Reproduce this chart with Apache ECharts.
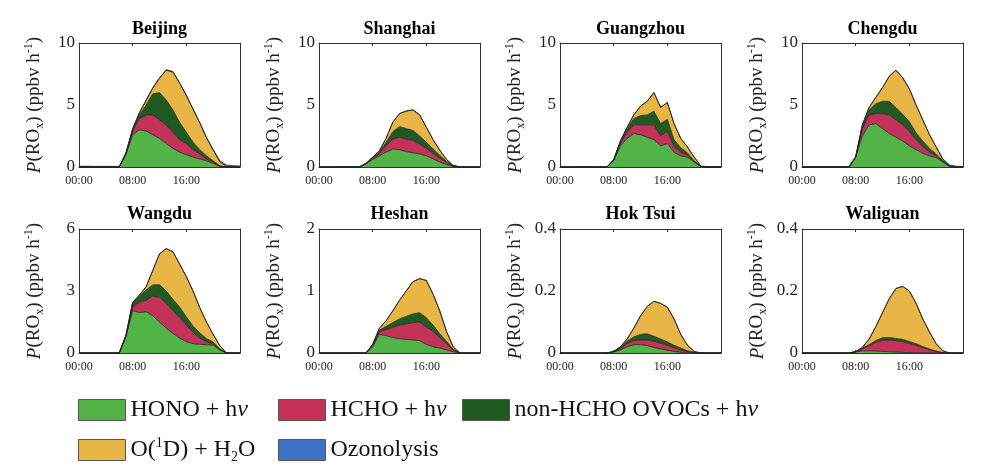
<!DOCTYPE html>
<html><head><meta charset="utf-8">
<script src="https://cdn.jsdelivr.net/npm/echarts@6/dist/echarts.min.js"></script>
<style>html,body{margin:0;padding:0;background:#fff}#c{width:986px;height:470px}</style>
</head><body><div id="c"></div>
<script>
// ---------- data ----------
const hours = [0,1,2,3,4,5,6,7,8,9,10,11,12,13,14,15,16,17,18,19,20,21,22,23,24];
const sites = ['Beijing','Shanghai','Guangzhou','Chengdu','Wangdu','Heshan','Hok Tsui','Waliguan'];
const yMax  = [10,10,10,10,6,2,0.4,0.4];
const yStep = [5,5,5,5,3,1,0.2,0.2];
const xTickLabels = ['00:00','08:00','16:00'];
const seriesNames = ['HONO + hν','HCHO + hν','non-HCHO OVOCs + hν','O(1D) + H2O','Ozonolysis'];

const beijing_HONO = [0,0,0,0,0,0,0,1.0,2.6,3.0,2.9,2.6,2.3,1.9,1.5,1.2,1.0,0.8,0.65,0.5,0.3,0.05,0,0,0];
const beijing_HCHO = [0,0,0,0,0,0,0,0.1,0.3,0.9,1.3,1.6,1.5,1.5,1.3,1.0,0.9,0.6,0.4,0.15,0.1,0,0,0,0];
const beijing_OVOC = [0,0,0,0,0,0,0,0,0.15,0.3,0.8,1.7,2.2,2.0,1.8,1.4,0.9,0.6,0.35,0.25,0.1,0.05,0,0,0];
const beijing_O1D  = [0,0,0,0,0,0,0,0,0,0.15,0.35,0.45,1.15,2.4,3.05,3.15,2.95,2.65,2.15,1.45,0.85,0.3,0.03,0,0];
const beijing_O3   = [0.06,0.06,0.05,0.05,0.05,0.05,0.05,0.05,0.05,0.05,0.05,0.05,0.05,0.05,0.05,0.05,0.05,0.05,0.05,0.05,0.08,0.1,0.12,0.1,0.08];

const shanghai_HONO = [0,0,0,0,0,0,0,0.25,0.6,0.9,1.2,1.45,1.4,1.25,1.15,1.05,0.9,0.65,0.4,0.2,0.05,0,0,0,0];
const shanghai_HCHO = [0,0,0,0,0,0,0,0.03,0.1,0.2,0.5,0.8,1.0,1.0,1.0,0.8,0.6,0.45,0.3,0.15,0.03,0,0,0,0];
const shanghai_OVOC = [0,0,0,0,0,0,0,0,0.05,0.1,0.3,0.6,0.85,0.85,0.8,0.65,0.5,0.35,0.25,0.1,0.02,0,0,0,0];
const shanghai_O1D  = [0,0,0,0,0,0,0,0,0.03,0.1,0.3,0.75,1.05,1.4,1.65,1.7,1.2,0.75,0.4,0.15,0.02,0,0,0,0];
const shanghai_O3   = [0.01,0.01,0.01,0.01,0.01,0.01,0.01,0.01,0.02,0.02,0.02,0.02,0.02,0.02,0.02,0.02,0.02,0.02,0.02,0.02,0.01,0.01,0.01,0.01,0.01];

const guangzhou_HONO = [0,0,0,0,0,0,0,0,0.5,1.7,2.3,2.7,2.6,2.4,2.2,1.7,1.9,1.2,0.9,0.8,0.4,0.03,0,0,0];
const guangzhou_HCHO = [0,0,0,0,0,0,0,0,0.05,0.2,0.5,0.7,0.8,1.0,1.2,0.8,1.0,0.45,0.3,0.15,0.05,0,0,0,0];
const guangzhou_OVOC = [0,0,0,0,0,0,0,0,0.02,0.1,0.3,0.5,0.75,0.8,1.1,1.0,0.95,0.55,0.35,0.2,0.05,0,0,0,0];
const guangzhou_O1D  = [0,0,0,0,0,0,0,0,0,0.1,0.1,0.3,0.75,1.1,1.5,1.3,1.35,1.3,0.75,0.45,0.3,0.02,0,0,0];
const guangzhou_O3   = [0.01,0.01,0.01,0.01,0.01,0.01,0.01,0.01,0.01,0.01,0.01,0.01,0.01,0.01,0.01,0.01,0.01,0.01,0.01,0.01,0.02,0.03,0.03,0.02,0.01];

const chengdu_HONO = [0,0,0,0,0,0,0,0,0.8,2.5,3.4,3.5,3.1,2.7,2.4,2.1,1.7,1.4,1.1,0.9,0.75,0.4,0.05,0,0];
const chengdu_HCHO = [0,0,0,0,0,0,0,0,0,0.6,0.8,0.8,1.2,1.5,1.4,1.3,1.2,0.8,0.55,0.3,0.15,0.05,0,0,0];
const chengdu_OVOC = [0,0,0,0,0,0,0,0,0,0.2,0.4,0.8,1.0,1.1,1.0,0.85,0.75,0.55,0.45,0.3,0.15,0.05,0,0,0];
const chengdu_O1D  = [0,0,0,0,0,0,0,0,0,0.1,0.2,0.5,1.1,2.0,3.0,2.95,2.65,2.25,1.7,1.1,0.55,0.1,0.03,0,0];
const chengdu_O3   = [0.02,0.02,0.02,0.02,0.02,0.02,0.02,0.02,0.02,0.02,0.02,0.02,0.02,0.02,0.02,0.02,0.02,0.02,0.02,0.03,0.04,0.06,0.08,0.06,0.03];

const wangdu_HONO = [0,0,0,0,0,0,0,0.8,2.05,1.95,2.0,1.8,1.5,1.2,0.95,0.72,0.55,0.45,0.42,0.4,0.38,0.15,0,0,0];
const wangdu_HCHO = [0,0,0,0,0,0,0,0.05,0.2,0.5,0.55,0.95,1.2,1.2,1.1,1.0,0.8,0.55,0.3,0.15,0.05,0,0,0,0];
const wangdu_OVOC = [0,0,0,0,0,0,0,0,0.2,0.3,0.5,0.55,0.6,0.6,0.55,0.5,0.4,0.3,0.25,0.15,0.1,0.05,0,0,0];
const wangdu_O1D  = [0,0,0,0,0,0,0,0,0,0.05,0.15,0.7,1.5,2.05,2.3,2.08,1.95,1.7,1.23,0.8,0.37,0.15,0,0,0];
const wangdu_O3   = [0,0,0,0,0,0,0,0,0,0,0,0,0,0,0,0,0,0,0,0,0,0,0,0,0];

const heshan_HONO = [0,0,0,0,0,0,0,0,0.1,0.3,0.28,0.25,0.23,0.22,0.21,0.2,0.14,0.1,0.08,0.05,0.02,0,0,0,0];
const heshan_HCHO = [0,0,0,0,0,0,0,0,0.02,0.05,0.1,0.16,0.22,0.25,0.28,0.3,0.28,0.25,0.17,0.1,0.03,0,0,0,0];
const heshan_OVOC = [0,0,0,0,0,0,0,0,0.01,0.02,0.05,0.08,0.1,0.12,0.14,0.15,0.15,0.1,0.06,0.04,0.01,0,0,0,0];
const heshan_O1D  = [0,0,0,0,0,0,0,0,0.01,0.03,0.09,0.19,0.3,0.41,0.52,0.55,0.6,0.5,0.37,0.16,0.04,0,0,0,0];
const heshan_O3   = [0,0,0,0,0,0,0,0,0,0,0,0,0,0,0,0,0,0,0,0,0,0,0,0,0];

const hoktsui_HONO = [0,0,0,0,0,0,0,0,0.003,0.01,0.02,0.027,0.027,0.024,0.018,0.013,0.009,0.005,0.002,0,0,0,0,0,0];
const hoktsui_HCHO = [0,0,0,0,0,0,0,0,0.001,0.004,0.01,0.013,0.015,0.018,0.02,0.019,0.016,0.012,0.008,0.004,0.001,0,0,0,0];
const hoktsui_OVOC = [0,0,0,0,0,0,0,0,0.001,0.004,0.008,0.012,0.018,0.02,0.016,0.013,0.011,0.008,0.006,0.003,0.001,0,0,0,0];
const hoktsui_O1D  = [0,0,0,0,0,0,0,0,0,0.002,0.007,0.028,0.06,0.088,0.113,0.115,0.112,0.085,0.044,0.018,0.003,0,0,0,0];
const hoktsui_O3   = [0,0,0,0,0,0,0,0,0,0,0,0,0,0,0,0,0,0,0,0,0,0,0,0,0];

const waliguan_HONO = [0,0,0,0,0,0,0,0,0.003,0.007,0.007,0.006,0.005,0.004,0.003,0.002,0.001,0.001,0,0,0,0,0,0,0];
const waliguan_HCHO = [0,0,0,0,0,0,0,0,0.001,0.007,0.016,0.028,0.036,0.038,0.037,0.035,0.03,0.024,0.017,0.01,0.005,0.001,0,0,0];
const waliguan_OVOC = [0,0,0,0,0,0,0,0,0,0.002,0.004,0.006,0.008,0.008,0.007,0.007,0.006,0.005,0.004,0.003,0.001,0,0,0,0];
const waliguan_O1D  = [0,0,0,0,0,0,0,0,0,0.002,0.018,0.045,0.081,0.125,0.161,0.171,0.163,0.131,0.089,0.055,0.024,0.006,0,0,0];
const waliguan_O3   = [0,0,0,0,0,0,0,0,0,0,0,0,0,0,0,0,0,0,0,0,0,0,0,0,0];

const siteData = [
  [beijing_HONO, beijing_HCHO, beijing_OVOC, beijing_O1D, beijing_O3],
  [shanghai_HONO, shanghai_HCHO, shanghai_OVOC, shanghai_O1D, shanghai_O3],
  [guangzhou_HONO, guangzhou_HCHO, guangzhou_OVOC, guangzhou_O1D, guangzhou_O3],
  [chengdu_HONO, chengdu_HCHO, chengdu_OVOC, chengdu_O1D, chengdu_O3],
  [wangdu_HONO, wangdu_HCHO, wangdu_OVOC, wangdu_O1D, wangdu_O3],
  [heshan_HONO, heshan_HCHO, heshan_OVOC, heshan_O1D, heshan_O3],
  [hoktsui_HONO, hoktsui_HCHO, hoktsui_OVOC, hoktsui_O1D, hoktsui_O3],
  [waliguan_HONO, waliguan_HCHO, waliguan_OVOC, waliguan_O1D, waliguan_O3]
];

// ---------- style / layout ----------
const FONT = 'Liberation Serif';
const colors = ['#52B447','#C4325A','#1F5A22','#E8B547','#3E72C4'];
const gridLefts = [79, 319, 560, 802];
const gridTops = [43, 229];
const gridW = 161, gridH = 124;
const hourCats = hours.map(String);
const tickEvery = (idx) => idx % 8 === 0;

const grids = [], xAxes = [], yAxes = [], series = [], titles = [];
for (let i = 0; i < 8; i++) {
  const col = i % 4, row = Math.floor(i / 4);
  const left = gridLefts[col], top = gridTops[row];
  grids.push({left: left, top: top, width: gridW, height: gridH, containLabel: false});
  titles.push({
    text: sites[i], left: left + gridW / 2, top: row === 0 ? 20 : 205, textAlign: 'center', padding: 0,
    textStyle: {fontFamily: FONT, fontWeight: 'bold', fontSize: 18, color: '#000'}
  });
  const axisLine = {show: true, onZero: false, lineStyle: {color: '#333', width: 1}};
  xAxes.push({
    type: 'category', data: hourCats, boundaryGap: false, gridIndex: i, position: 'bottom',
    axisLine: axisLine, axisTick: {inside: true, length: 3, interval: tickEvery, lineStyle: {color: '#333'}},
    splitLine: {show: false},
    axisLabel: {interval: tickEvery, formatter: v => xTickLabels[Number(v) / 8] || '',
                fontFamily: FONT, fontSize: 12, color: '#222', margin: 8}
  });
  xAxes.push({
    type: 'category', data: hourCats, boundaryGap: false, gridIndex: i, position: 'top',
    axisLine: axisLine, axisTick: {inside: true, length: 3, interval: tickEvery, lineStyle: {color: '#333'}},
    splitLine: {show: false}, axisLabel: {show: false}
  });
  yAxes.push({
    type: 'value', gridIndex: i, min: 0, max: yMax[i], interval: yStep[i], position: 'left',
    axisLine: axisLine, axisTick: {inside: true, length: 3, lineStyle: {color: '#333'}},
    splitLine: {show: false},
    axisLabel: {fontFamily: FONT, fontSize: 17, color: '#222', margin: 4},
    name: '{it|P}{n|(RO}{sub|x}{n|) (ppbv h}{sup|-1}{n|)}',
    nameLocation: 'middle', nameGap: 33, nameRotate: 90,
    nameTextStyle: {
      fontFamily: FONT, fontSize: 19, color: '#222',
      rich: {
        n: {fontFamily: FONT, fontSize: 19, lineHeight: 23, color: '#222', verticalAlign: 'middle'},
        it: {fontFamily: FONT, fontSize: 19, lineHeight: 23, fontStyle: 'italic', color: '#222', verticalAlign: 'middle'},
        sub: {fontFamily: FONT, fontSize: 12, lineHeight: 12, color: '#222', verticalAlign: 'bottom'},
        sup: {fontFamily: FONT, fontSize: 12, lineHeight: 12, color: '#222', verticalAlign: 'top'}
      }
    }
  });
  yAxes.push({
    type: 'value', gridIndex: i, min: 0, max: yMax[i], interval: yStep[i], position: 'right',
    axisLine: axisLine, axisTick: {inside: true, length: 3, lineStyle: {color: '#333'}},
    splitLine: {show: false}, axisLabel: {show: false}
  });
  for (let s = 0; s < 5; s++) {
    series.push({
      type: 'line', name: seriesNames[s], xAxisIndex: i * 2, yAxisIndex: i * 2,
      stack: 'site' + i, symbol: 'none', silent: true, animation: false,
      data: siteData[i][s],
      itemStyle: {color: colors[s]},
      lineStyle: {width: 0.8, color: '#222'},
      areaStyle: {color: colors[s], opacity: 1},
      emphasis: {disabled: true}
    });
  }
}

const legendRich = {
  n: {fontFamily: FONT, fontSize: 24, lineHeight: 28, color: '#111'},
  it: {fontFamily: FONT, fontSize: 24, lineHeight: 28, fontStyle: 'italic', color: '#111'},
  sup: {fontFamily: FONT, fontSize: 14, lineHeight: 14, color: '#111', verticalAlign: 'top'},
  sub: {fontFamily: FONT, fontSize: 14, lineHeight: 14, color: '#111', verticalAlign: 'bottom'}
};
function legendFmt(name) {
  if (name === 'O(1D) + H2O') return '{n|O(}{sup|1}{n|D) + H}{sub|2}{n|O}';
  if (name.endsWith('hν')) return '{n|' + name.slice(0, -1) + '}{it|ν}';
  return '{n|' + name + '}';
}
const legendPos = [[78, 398], [278, 398], [462, 398], [78, 436], [278, 438]];
const legends = seriesNames.map((nm, k) => ({
  data: [nm], left: legendPos[k][0], top: legendPos[k][1], padding: 0,
  icon: 'rect', itemWidth: 47, itemHeight: 21, selectedMode: false,
  itemStyle: {borderColor: '#555', borderWidth: 1},
  formatter: legendFmt,
  textStyle: {fontFamily: FONT, fontSize: 24, color: '#111', rich: legendRich}
}));

const chart = echarts.init(document.getElementById('c'), null, {renderer: 'canvas'});
chart.setOption({
  backgroundColor: '#fff',
  animation: false,
  title: titles,
  grid: grids,
  xAxis: xAxes,
  yAxis: yAxes,
  legend: legends,
  series: series
});
</script>
</body></html>
